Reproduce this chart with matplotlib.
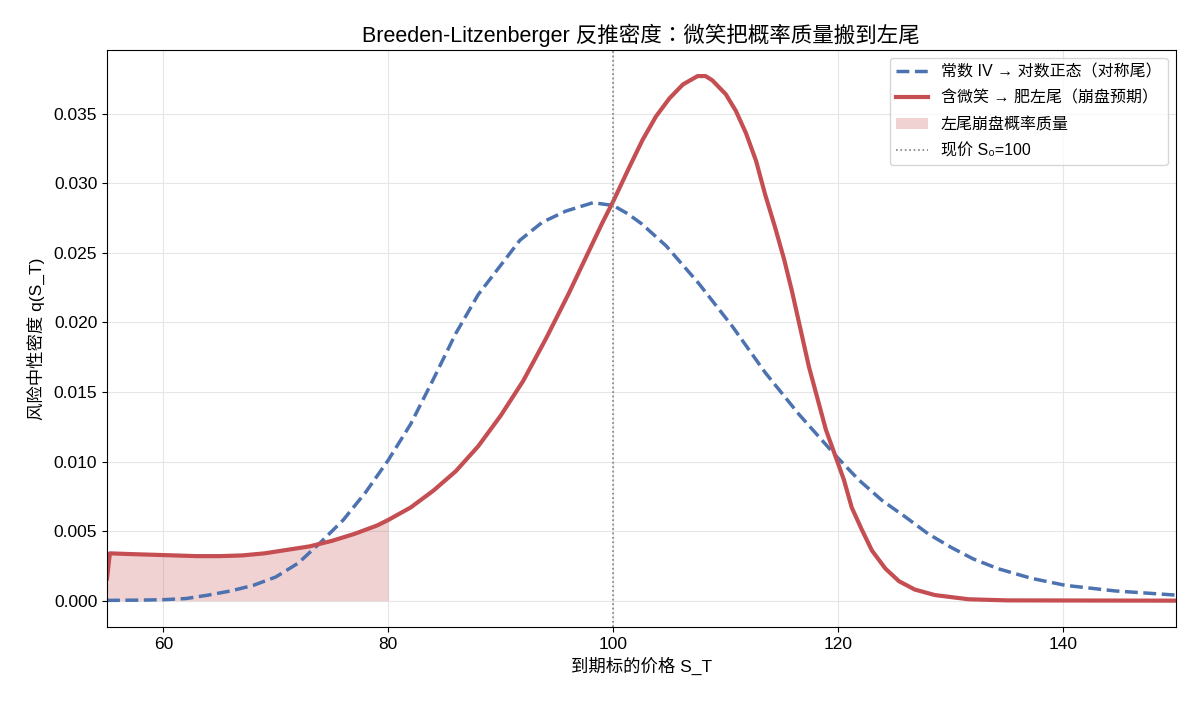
import matplotlib
matplotlib.use('Agg')
import matplotlib.pyplot as plt

plt.rcParams['font.family'] = ['Liberation Sans', 'Noto Sans CJK TC', 'DejaVu Sans']
plt.rcParams['axes.unicode_minus'] = False

# constant IV -> lognormal density
blue_x = [55, 58, 60, 62, 64, 66, 68, 70, 72, 74, 76, 78, 80, 82, 84, 86, 88, 89.9, 91.7,
          93.7, 95.8, 98.2, 100, 101.3, 102.5, 104.7, 107.6, 110.6, 113.5, 116.5, 119.8,
          121.8, 123.9, 126, 128, 130.1, 132, 134.2, 137.2, 140.2, 144.6, 150]
blue_y = [0.00002, 0.00004, 0.00007, 0.00015, 0.0004, 0.0007, 0.0011, 0.0017, 0.0027, 0.0042,
          0.0058, 0.0078, 0.0101, 0.0127, 0.0159, 0.0192, 0.0220, 0.0240, 0.0259,
          0.0272, 0.0280, 0.0286, 0.0284, 0.0278, 0.0271, 0.0255, 0.0228, 0.0197, 0.0164,
          0.0134, 0.0104, 0.0087, 0.0072, 0.0060, 0.0048, 0.0038, 0.0030, 0.0023, 0.0016,
          0.0011, 0.0007, 0.0004]

# smile -> fat left tail
red_x = [55, 55.25, 57, 59, 61, 63, 65, 67, 69, 71, 73, 75, 77, 79, 80, 82, 84, 86, 88, 90,
         92, 94, 96, 98, 99, 100, 101.4, 102.6, 103.8, 105.0, 106.2, 107.5, 108.2, 108.8,
         110.0, 110.9, 111.8, 112.7, 113.5, 114.4, 115.2, 115.9, 117.4, 118.9, 120.5, 121.2,
         122.1, 123.0, 124.2, 125.4, 126.8, 128.6, 131.6, 135, 150]
red_y = [0.0016, 0.0034, 0.00335, 0.0033, 0.00325, 0.0032, 0.0032, 0.00325, 0.0034, 0.00365,
         0.0039, 0.0043, 0.0048, 0.0054, 0.0058, 0.0067, 0.0079, 0.0093, 0.0111, 0.0133,
         0.0158, 0.0188, 0.0220, 0.0254, 0.0271, 0.0287, 0.0311, 0.0331, 0.0348, 0.0361,
         0.0371, 0.0377, 0.0377, 0.0374, 0.0364, 0.0352, 0.0336, 0.0316, 0.0292, 0.0268,
         0.0245, 0.0222, 0.0168, 0.0123, 0.0087, 0.0067, 0.0051, 0.0036, 0.0023, 0.0014,
         0.0008, 0.0004, 0.0001, 0.00002, 0.0]

S0 = 100
tail_cut = 80

fig, ax = plt.subplots(figsize=(11.96, 7.02), dpi=100)
fig.subplots_adjust(left=0.0895, right=0.983, top=0.929, bottom=0.107)

ax.plot(blue_x, blue_y, color='#4c72b0', lw=2.5, ls='--', label='常数 IV → 对数正态（对称尾）')
ax.plot(red_x, red_y, color='#c44e52', lw=3, label='含微笑 → 肥左尾（崩盘预期）')

tx = [x for x in red_x if x <= tail_cut]
ty = [y for x, y in zip(red_x, red_y) if x <= tail_cut]
ax.fill_between(tx, ty, color='#c44e52', alpha=0.25, lw=0, label='左尾崩盘概率质量')

ax.axvline(S0, color='gray', ls=':', lw=1.2, label='现价 S₀=100')

ax.set_xlim(55, 150)
ax.grid(True, color='#e6e6e6', lw=0.8)
ax.set_axisbelow(True)
ax.set_xlabel('到期标的价格 S_T', fontsize=12.5)
ax.set_ylabel('风险中性密度 q(S_T)', fontsize=12.5, labelpad=6)
ax.set_title('Breeden-Litzenberger 反推密度：微笑把概率质量搬到左尾', fontsize=15.5)
ax.tick_params(labelsize=12.5)
ax.legend(loc='upper right', fontsize=11.5, labelspacing=0.7)

fig.savefig('out.png', dpi=100)
